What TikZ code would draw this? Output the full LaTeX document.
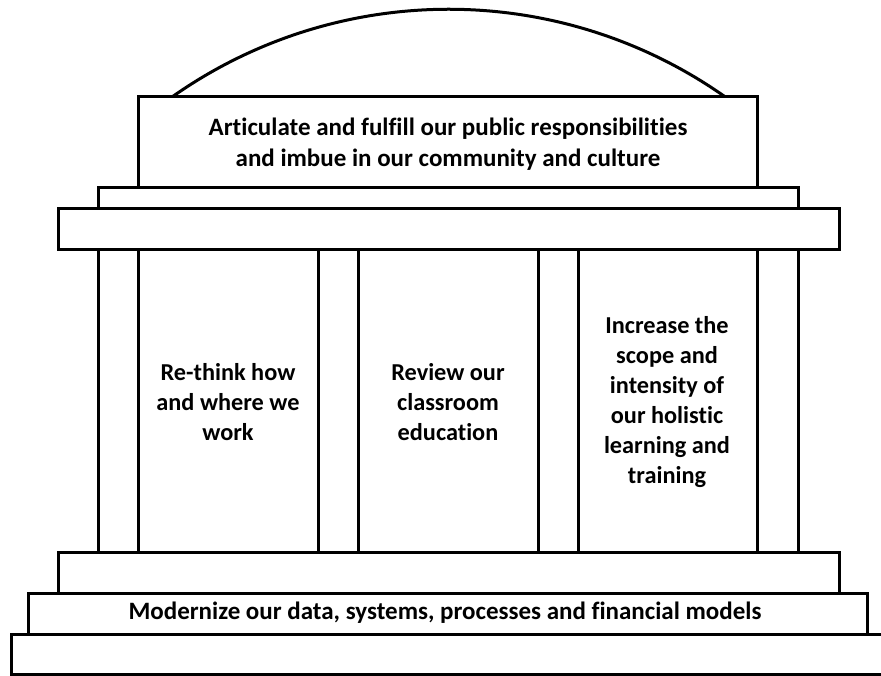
\documentclass[tikz,border=0pt]{standalone}
\usepackage{fontspec}
\setmainfont{Carlito}[Ligatures=CommonOff]
\begin{document}
\begin{tikzpicture}[x=1pt,y=-1pt,
  part/.style={draw=black,line width=3pt,fill=white},
  edge/.style={draw=black,line width=3pt},
  lbl/.style={font=\fontsize{25}{31}\selectfont\bfseries,align=center,inner sep=0pt},
  collbl/.style={font=\fontsize{24.3}{30}\selectfont\bfseries,align=center,inner sep=0pt}]
\useasboundingbox (0,0) rectangle (881,676);
% dome
\draw[edge] (172,97) arc[start angle=-125.2, end angle=-54.8, radius=480];
% roof box
\draw[part] (138,97) rectangle (757,188);
\draw[part] (98,188) rectangle (798,209);
\draw[part] (58,209) rectangle (839,250);
% columns
\foreach \cx in {98,138,318,358,538,578,757,798}
  \draw[edge] (\cx,250) -- (\cx,552);
% steps
\draw[part] (58,552) rectangle (839,593);
\draw[part] (28,593) rectangle (867,634);
\draw[part] (11,634) rectangle (895,674);
% texts
\node[lbl] (roof) at (448,144) {Articulate and fulfill our public responsibilities\\and imbue in our community and culture};
\node[collbl] (c1) at (228,402) {Re-think how\\and where we\\work};
\node[collbl] (c2) at (448,402) {Review our\\classroom\\education};
\node[collbl] (c3) at (667,402) {Increase the\\scope and\\intensity of\\our holistic\\learning and\\training};
\node[lbl] (base) at (445,613) {Modernize our data, systems, processes and financial models};
\end{tikzpicture}
\end{document}
